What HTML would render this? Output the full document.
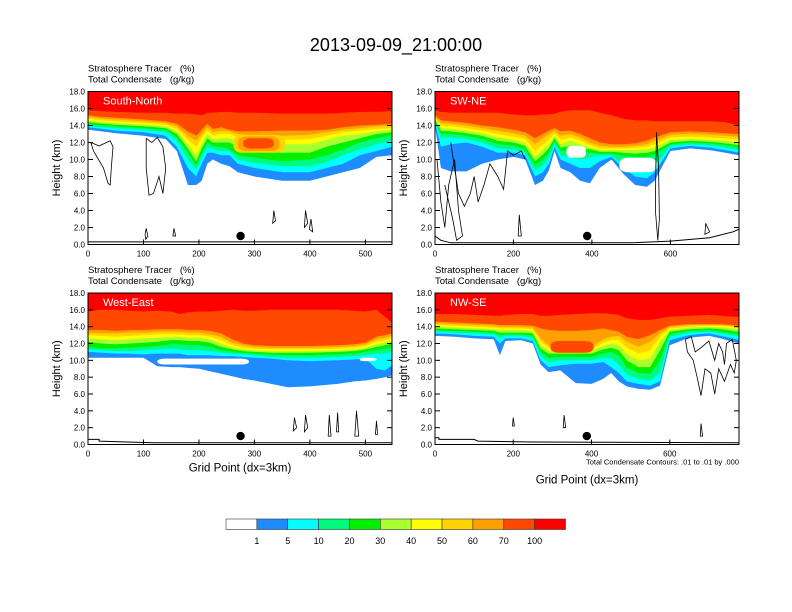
<!DOCTYPE html>
<html><head><meta charset="utf-8"><style>
body{margin:0;background:#fff;}
svg{display:block;font-family:"Liberation Sans",sans-serif;}
text{white-space:pre;}
</style></head><body>
<svg id="fig" width="792" height="612" viewBox="0 0 792 612">
<rect width="792" height="612" fill="#fff"/>
<text x="396" y="51" font-size="18" text-anchor="middle">2013-09-09_21:00:00</text>
<g id="panels"></g>
<g id="cbar"></g>
</svg>
<script>
const levelColors = ["#ffffff","#1e8cff","#00ffff","#00fa80","#00f000","#aaff30","#ffff00","#ffd200","#ffa000","#ff4800","#ff0000"];
const levelLabels = ["1","5","10","20","30","40","50","60","70","100"];

// Panel 1 South-North
const p1X = [0,25,50,100,140,160,180,195,205,215,225,240,255,270,300,350,400,430,460,490,520,550];
const p1Lv1 = [13.5,13.3,13.1,12.8,12.4,11,7.0,7.0,7.5,9.5,10,9.5,9.2,8.5,8.0,7.5,7.5,8.0,8.5,9.0,10.3,10.5];
const p1Lv2 = [13.8,13.6,13.4,13.2,12.8,11.5,9,8,9.5,10.8,10.8,10.5,10.5,9.5,9,8.5,8.5,9,9.5,10.5,11,11.5];
const p1Lv3 = [14.0,13.8,13.7,13.5,13.2,12.2,10,8.8,10.2,11.5,11.2,11,11,10,9.6,9.2,9.2,9.7,10.5,11.2,11.8,12.2];
const p1Lv4 = [14.2,14.0,13.9,13.7,13.5,12.6,10.8,9.3,10.8,12,11.6,11.5,11.2,10.5,10.2,9.8,10,10.5,11.2,12,12.5,12.8];
const p1Lv5 = [14.4,14.2,14.1,13.9,13.7,13.0,11.3,9.8,11.3,12.5,12.0,12.0,12.0,11.5,11.0,10.8,10.8,11.5,12,12.5,13,13.2];
const p1Lv6 = [14.6,14.4,14.3,14.1,13.9,13.3,11.8,10.5,11.8,13,12.4,12.5,12.5,12.2,12.0,11.8,11.8,12.3,12.8,13,13.3,13.5];
const p1Lv7 = [14.8,14.6,14.5,14.3,14.1,13.6,12.3,11.5,12.5,13.4,12.8,13,13,12.6,12.4,12.3,12.4,12.8,13.2,13.4,13.6,13.7];
const p1Lv8 = [15.0,14.8,14.7,14.5,14.3,13.9,12.8,12.2,13.0,13.8,13.2,13.4,13.3,13,12.8,12.8,12.9,13.2,13.5,13.7,13.9,14];
const p1Lv9 = [15.2,15.0,14.9,14.7,14.5,14.2,13.3,12.8,13.5,14.2,13.6,13.8,13.5,13.3,13.3,13.4,13.4,13.5,13.8,14,14.1,14.2];
const p1Lv10 = [15.8,15.7,15.6,15.5,15.5,15.4,15.4,15.3,15.2,15.5,15.5,15.6,15.6,15.5,15.5,15.4,15.4,15.4,15.5,15.6,15.6,15.7];
const p1Patches = [[7,262,355,10.8,12.9],[8,270,345,11.0,12.7],[9,280,335,11.3,12.5]]; // level, x0, x1, bottom, top

// Panel 2 SW-NE
const p2X = [0,15,40,80,120,160,200,230,255,275,290,305,320,345,370,395,420,450,480,510,540,560,600,650,700,740,775];
const p2Lv1 = [14.0,9.0,8.6,8.6,9.5,10.0,10.3,10.0,7.0,7.5,8.7,11.0,9.0,8.5,7.5,7.2,9.0,10.0,8.3,7.0,6.8,7.5,11.0,11.3,11.1,10.8,10.5];
const p2Lv2 = [14.3,11.5,11.8,12.0,11.5,10.8,10.8,10.5,8.0,8.5,9.5,11.5,10.0,9.5,9.0,9.0,9.8,10.3,9.0,8.0,7.8,8.5,11.3,11.6,11.4,11.1,10.8];
const p2Lv3 = [14.5,12.5,12.6,12.4,12.0,11.3,11.2,10.8,8.7,9.3,10.2,11.9,10.5,10.2,10.0,10.2,10.5,10.5,9.3,8.8,8.7,9.3,11.6,11.8,11.7,11.4,11.1];
const p2Lv4 = [14.6,13.0,13.0,12.8,12.4,11.8,11.6,11.2,9.3,10.0,10.8,12.2,11.0,11.0,10.8,10.8,10.7,10.7,10.4,10.3,10.3,10.6,11.8,12.0,11.9,11.7,11.4];
const p2Lv5 = [14.7,13.4,13.3,13.1,12.8,12.2,12.0,11.6,9.8,10.6,11.3,12.5,11.4,11.6,11.3,11.2,10.9,10.9,10.8,10.7,10.8,11.0,12.0,12.2,12.1,11.9,11.7];
const p2Lv6 = [14.8,13.7,13.6,13.4,13.1,12.6,12.3,12.0,10.3,11.2,11.8,12.8,11.8,12.2,11.8,11.4,11.1,11.1,11.1,11.1,11.2,11.4,12.3,12.4,12.3,12.2,12.0];
const p2Lv7 = [14.9,14.0,13.9,13.7,13.4,13.0,12.7,12.4,11.0,11.8,12.3,13.1,12.3,12.6,12.2,11.7,11.3,11.3,11.3,11.4,11.5,11.8,12.6,12.7,12.6,12.5,12.3];
const p2Lv8 = [15.0,14.3,14.2,14.0,13.7,13.4,13.1,12.8,11.8,12.5,13.0,13.4,12.8,13.0,12.6,12.0,11.6,11.5,11.5,11.6,11.8,12.2,12.9,13.0,12.9,12.8,12.7];
const p2Lv9 = [15.2,14.6,14.5,14.3,14.0,13.8,13.5,13.2,12.5,13.0,13.4,13.7,13.3,13.4,13.0,12.5,12.0,11.8,11.8,11.9,12.2,12.6,13.2,13.3,13.2,13.1,13.0];
const p2Lv10 = [15.8,15.6,15.5,15.5,15.5,15.5,15.3,15.2,15.2,15.3,15.3,15.4,15.6,15.8,15.8,15.8,15.5,15.2,14.8,14.6,14.6,14.5,14.5,14.5,14.5,14.4,14.0];
const p2Patches = [[0,335,385,10.2,11.6],[0,470,565,8.5,10.2]];

// Panel 3 West-East
const p3X = [0,25,50,75,100,125,150,165,180,200,220,240,260,280,300,330,360,400,450,480,500,520,535,550];
const p3Lv1 = [10.3,10.3,10.3,10.3,10.3,9.3,9.2,9.2,9.1,9.0,8.7,8.4,8.1,7.8,7.6,7.2,6.8,6.9,7.2,7.5,7.6,7.8,8.0,8.2];
const p3Lv2 = [11.0,10.9,10.8,10.8,10.7,10.8,10.8,10.8,10.6,10.6,10.6,10.5,10.5,10.4,10.3,10.2,10.0,9.9,10.0,10.1,10.2,9.0,8.8,9.4];
const p3Lv3 = [11.3,11.2,11.1,11.1,11.2,11.3,11.4,11.3,11.2,11.2,11.1,10.9,10.8,10.7,10.6,10.4,10.3,10.3,10.4,10.5,10.6,10.8,10.8,11.0];
const p3Lv4 = [11.6,11.4,11.4,11.5,11.6,11.7,11.9,11.9,11.8,11.8,11.6,11.2,11.0,10.9,10.8,10.7,10.6,10.6,10.7,10.8,11.0,11.2,11.4,11.5];
const p3Lv5 = [12.2,12.0,11.9,12.0,12.1,12.2,12.4,12.4,12.3,12.3,12.1,11.6,11.3,11.1,11.0,10.9,10.9,10.9,11.0,11.1,11.3,11.6,11.8,12.0];
const p3Lv6 = [12.6,12.5,12.4,12.5,12.6,12.7,12.8,12.8,12.7,12.7,12.5,12.0,11.5,11.3,11.2,11.1,11.1,11.1,11.2,11.3,11.5,11.9,12.1,12.3];
const p3Lv7 = [13.0,12.9,12.8,12.9,13.0,13.1,13.1,13.1,13.0,13.0,12.8,12.4,11.8,11.5,11.4,11.3,11.3,11.3,11.4,11.5,11.7,12.2,12.4,12.6];
const p3Lv8 = [13.3,13.2,13.2,13.3,13.3,13.4,13.4,13.4,13.3,13.3,13.1,12.8,12.1,11.8,11.6,11.5,11.5,11.5,11.6,11.7,11.9,12.5,12.7,12.9];
const p3Lv9 = [13.6,13.6,13.5,13.6,13.6,13.7,13.7,13.7,13.6,13.6,13.5,13.2,12.5,12.0,11.8,11.7,11.7,11.7,11.8,11.9,12.1,12.8,13.0,13.2];
const p3Lv10 = [15.8,16.0,16.0,15.9,15.8,15.9,15.8,15.5,15.7,15.8,15.8,15.9,16.0,15.9,15.9,16.0,16.0,16.0,16.0,15.9,15.8,16.0,15.2,14.5];
const p3Patches = [[0,125,290,9.5,10.2],[0,490,520,9.9,10.3],[9,440,495,12.9,13.5]];

// Panel 4 NW-SE
const p4X = [0,50,100,150,166,180,220,250,270,290,320,360,400,430,450,470,490,520,550,575,600,650,700,730,760,777];
const p4Lv1 = [12.9,12.8,12.6,12.5,10.6,12.3,12.4,12.0,9.5,8.6,8.8,7.3,7.2,7.8,8.5,7.5,6.9,6.6,6.5,7.0,11.8,12.7,12.9,12.6,12.2,12.0];
const p4Lv2 = [13.2,13.1,12.9,12.8,12.0,12.6,12.6,12.3,10.0,9.2,9.4,9.6,9.6,9.8,9.2,8.5,7.5,7.2,7.0,7.5,12.4,13.0,13.2,12.9,12.6,12.4];
const p4Lv3 = [13.4,13.3,13.2,13.1,12.6,12.9,12.9,12.6,10.5,9.8,10.0,10.0,10.0,10.3,10.2,9.5,8.3,7.8,7.6,8.5,12.8,13.3,13.4,13.2,13.0,12.8];
const p4Lv4 = [13.6,13.5,13.4,13.3,13.0,13.1,13.1,12.9,11.0,10.3,10.4,10.4,10.4,10.8,11.0,10.5,9.2,8.5,8.4,10.0,13.1,13.5,13.6,13.4,13.2,13.1];
const p4Lv5 = [13.8,13.7,13.6,13.5,13.3,13.3,13.3,13.2,11.4,10.8,10.8,10.8,10.8,11.3,11.5,11.2,10.0,9.2,9.2,11.2,13.4,13.7,13.8,13.7,13.5,13.4];
const p4Lv6 = [14.0,13.9,13.8,13.7,13.6,13.6,13.6,13.5,11.8,11.2,11.1,11.1,11.1,11.7,12.0,11.8,10.8,10.0,10.2,12.2,13.6,13.9,14.0,13.9,13.8,13.7];
const p4Lv7 = [14.2,14.1,14.0,13.9,13.8,13.8,13.8,13.7,12.2,11.5,11.3,11.3,11.3,12.1,12.4,12.4,11.5,10.8,11.2,12.8,13.8,14.0,14.1,14.1,14.0,13.9];
const p4Lv8 = [14.4,14.3,14.2,14.1,14.0,14.0,14.0,13.9,12.6,11.8,11.5,11.5,11.6,12.5,12.8,12.9,12.2,11.6,12.2,13.2,14.0,14.2,14.2,14.2,14.1,14.0];
const p4Lv9 = [14.6,14.5,14.4,14.3,14.2,14.2,14.2,14.1,13.8,13.6,13.5,13.5,13.6,13.8,13.6,13.4,12.8,12.5,13.0,13.6,14.1,14.3,14.3,14.3,14.2,14.1];
const p4Lv10 = [15.5,15.5,15.4,15.3,15.3,15.4,15.5,15.5,15.3,15.3,15.4,15.5,15.6,15.6,15.5,15.4,15.0,14.8,14.8,15.0,15.2,15.3,15.4,15.3,15.2,15.2];
const p4Patches = [[9,295,405,10.9,12.3]];

// condensate contour loops: [grid, height] pairs
const p1Contours = [[[5,12],[20,11.6],[40,12.2],[45,11.5],[42,9],[40,7],[36,7.2],[28,9],[10,11],[5,12]],
  [[105,12.5],[115,12],[125,12.6],[135,11.5],[140,9],[135,6],[128,8],[118,6],[110,5.8],[105,9],[105,12.5]],
  [[105,1.9],[108,1],[104,0.6],[103,1.2],[105,1.9]],[[155,1.9],[158,1],[153,1],[155,1.9]],
  [[335,4],[338,2.8],[333,2.5],[335,4]],[[392,4],[396,2.5],[390,2],[392,4]],[[402,3],[405,1.5],[399,1.8],[402,3]]];
const p2Contours = [[[40,12],[50,9],[60,6],[75,4.5],[90,6],[100,8],[110,5],[125,7],[140,9.5],[160,8],[175,6.5],[185,11],[200,10.5],[220,11],[230,10]],
  [[5,10],[15,5],[25,2],[35,7],[50,10],[60,4],[70,1],[55,0.5],[45,3],[25,7]],
  [[565,13.2],[570,9],[572,3],[568,0.5],[562,4],[563,9],[565,13.2]],
  [[215,3.5],[220,1],[212,1],[215,3.5]],[[690,2.5],[700,1.5],[688,1.2],[690,2.5]]];
const p3Contours = [[[372,3.2],[376,2],[370,1.6],[372,3.2]],[[392,3.5],[396,2],[390,1.5],[392,3.5]],[[435,3.5],[438,1],[433,1],[435,3.5]],
  [[450,3.8],[452,1.5],[448,1.5],[450,3.8]],[[484,4],[488,1],[481,1],[484,4]],[[520,2.8],[522,1.2],[518,1.2],[520,2.8]]];
const p4Contours = [[[640,12.5],[655,12.8],[665,11],[680,11.5],[700,12.3],[715,10],[725,12],[735,11],[740,9.5],[745,12],[760,12.5],[770,10],[765,8.5],[755,9.5],[740,7.5],[725,9],[715,6],[705,8.5],[690,9],[680,5.8],[670,8],[660,10],[645,11],[640,12.5]],
  [[680,2.5],[684,1],[678,1],[680,2.5]],[[200,3.2],[203,2.2],[198,2.2],[200,3.2]],[[330,3.5],[334,2],[328,2],[330,3.5]]];
const p1Terrain = [[0,0.3],[550,0.3]];
const p2Terrain = [[0,1.0],[15,0.5],[40,0.2],[500,0.2],[600,0.4],[700,0.8],[760,1.5],[775,1.8]];
const p3Terrain = [[0,0.6],[20,0.6],[20,0.4],[70,0.3],[120,0.2],[550,0.2]];
const p4Terrain = [[0,0.8],[10,0.8],[10,0.6],[100,0.6],[110,0.4],[250,0.3],[777,0.2]];

const panels = [
 {id:"south-north",title:"South-North",L:88,R:392,T:91.5,B:244.5,xmax:548,xt:[0,100,200,300,400,500],X:p1X,lv:[p1Lv1,p1Lv2,p1Lv3,p1Lv4,p1Lv5,p1Lv6,p1Lv7,p1Lv8,p1Lv9,p1Lv10],patch:p1Patches,cont:p1Contours,terr:p1Terrain,dot:275,xlab:false,note:false},
 {id:"sw-ne",title:"SW-NE",L:435,R:739,T:91.5,B:244.5,xmax:775,xt:[0,200,400,600],X:p2X,lv:[p2Lv1,p2Lv2,p2Lv3,p2Lv4,p2Lv5,p2Lv6,p2Lv7,p2Lv8,p2Lv9,p2Lv10],patch:p2Patches,cont:p2Contours,terr:p2Terrain,dot:388,xlab:false,note:false},
 {id:"west-east",title:"West-East",L:88,R:392,T:293,B:444.5,xmax:548,xt:[0,100,200,300,400,500],X:p3X,lv:[p3Lv1,p3Lv2,p3Lv3,p3Lv4,p3Lv5,p3Lv6,p3Lv7,p3Lv8,p3Lv9,p3Lv10],patch:p3Patches,cont:p3Contours,terr:p3Terrain,dot:275,xlab:true,note:false},
 {id:"nw-se",title:"NW-SE",L:435,R:739,T:293,B:444.5,xmax:777,xt:[0,200,400,600],X:p4X,lv:[p4Lv1,p4Lv2,p4Lv3,p4Lv4,p4Lv5,p4Lv6,p4Lv7,p4Lv8,p4Lv9,p4Lv10],patch:p4Patches,cont:p4Contours,terr:p4Terrain,dot:388,xlab:true,note:true}
];
const NS="http://www.w3.org/2000/svg";
function mk(tag,attrs,parent){const e=document.createElementNS(NS,tag);for(const k in attrs)e.setAttribute(k,attrs[k]);parent.appendChild(e);return e;}
const root=document.getElementById("panels");
panels.forEach(p=>{
  const W=p.R-p.L,H=p.B-p.T;
  const sx=g=>p.L+Math.min(g,p.xmax)/p.xmax*W;
  const sy=h=>p.B-h/18*H;
  const g=mk("g",{},root);
  
  
  const clipId="clip-"+p.id;
  const cp=mk("clipPath",{id:clipId},g);
  mk("rect",{x:p.L,y:p.T,width:W,height:H},cp);
  const plot=mk("g",{"clip-path":"url(#"+clipId+")"},g);
  p.lv.forEach((arr,k)=>{
    let d="M"+sx(0)+","+sy(18);
    p.X.forEach((x,i)=>{d+=" L"+sx(x).toFixed(1)+","+sy(arr[i]).toFixed(1);});
    d+=" L"+sx(p.xmax)+","+sy(18)+" Z";
    const e=mk("path",{d:d,fill:levelColors[k+1]},plot);
    
    
  });
  p.patch.forEach(pt=>{
    const x0=sx(pt[1]),x1=sx(pt[2]),y0=sy(pt[4]),y1=sy(pt[3]);
    const e=mk("rect",{x:x0,y:y0,width:x1-x0,height:y1-y0,rx:Math.min((x1-x0)/4,8),ry:(y1-y0)/2.5,fill:levelColors[pt[0]]},plot);
    
    
  });
  p.cont.forEach(c=>{
    const d="M"+c.map(q=>sx(q[0]).toFixed(1)+","+sy(q[1]).toFixed(1)).join(" L");
    const e=mk("path",{d:d,fill:"none",stroke:"#000","stroke-width":0.8},plot);
    
    
  });
  const td="M"+p.terr.map(q=>sx(q[0]).toFixed(1)+","+sy(q[1]).toFixed(1)).join(" L");
  const te=mk("path",{d:td,fill:"none",stroke:"#000","stroke-width":1},plot);
  
  
  const dot=mk("circle",{cx:sx(p.dot),cy:sy(1.0),r:4.2,fill:"#000"},plot);
  
  
  const fr=mk("rect",{x:p.L,y:p.T,width:W,height:H,fill:"none",stroke:"#000","stroke-width":1},g);
  
  
  for(let h=0;h<=18;h+=2){
    const y=sy(h);
    mk("line",{x1:p.L,x2:p.L+5,y1:y,y2:y,stroke:"#000","stroke-width":1},g);
    mk("line",{x1:p.R,x2:p.R-5,y1:y,y2:y,stroke:"#000","stroke-width":1},g);
    const t=mk("text",{x:p.L-3,y:y+3,"font-size":8,"text-anchor":"end"},g);
    t.textContent=h.toFixed(1);
    
    
  }
  p.xt.forEach(v=>{
    const x=sx(v);
    mk("line",{x1:x,x2:x,y1:p.B,y2:p.B-5,stroke:"#000","stroke-width":1},g);
    const t=mk("text",{x:x,y:p.B+12,"font-size":8,"text-anchor":"middle"},g);
    t.textContent=String(v);
    
    
  });
  const yl=mk("text",{x:0,y:0,"font-size":11,"text-anchor":"middle",transform:"translate("+(p.L-28)+","+((p.T+p.B)/2)+") rotate(-90)"},g);
  yl.textContent="Height (km)";
  
  
  const h1=mk("text",{x:p.L,y:p.T-20,"font-size":9.5},g);
  h1.textContent="Stratosphere Tracer   (%)";
  
  
  const h2=mk("text",{x:p.L,y:p.T-9,"font-size":9.5},g);
  h2.textContent="Total Condensate   (g/kg)";
  
  
  const pl=mk("text",{x:p.L+15,y:p.T+13,"font-size":11,fill:"#fff"},g);
  pl.textContent=p.title;
  
  
  if(p.note){
    const n=mk("text",{x:p.R,y:p.B+20,"font-size":7.5,"text-anchor":"end"},g);
    n.textContent="Total Condensate Contours: .01 to .01 by .000";
    
    
  }
  if(p.xlab){
    const xl=mk("text",{x:(p.L+p.R)/2,y:p.B+(p.note?39:27),"font-size":11.5,"text-anchor":"middle"},g);
    xl.textContent="Grid Point (dx=3km)";
    
    
  }
});
const cb=document.getElementById("cbar");
const cbL=226,cbR=565.5,cbT=519,cbB=529.5,bw=(cbR-cbL)/levelColors.length;
levelColors.forEach((c,i)=>{
  const r=mk("rect",{x:cbL+i*bw,y:cbT,width:bw,height:cbB-cbT,fill:c,stroke:"#333","stroke-width":0.6},cb);
  
  
});
levelLabels.forEach((l,i)=>{
  const t=mk("text",{x:cbL+(i+1)*bw,y:544,"font-size":9,"text-anchor":"middle"},cb);
  t.textContent=l;
  
  
});
</script>
</body></html>
